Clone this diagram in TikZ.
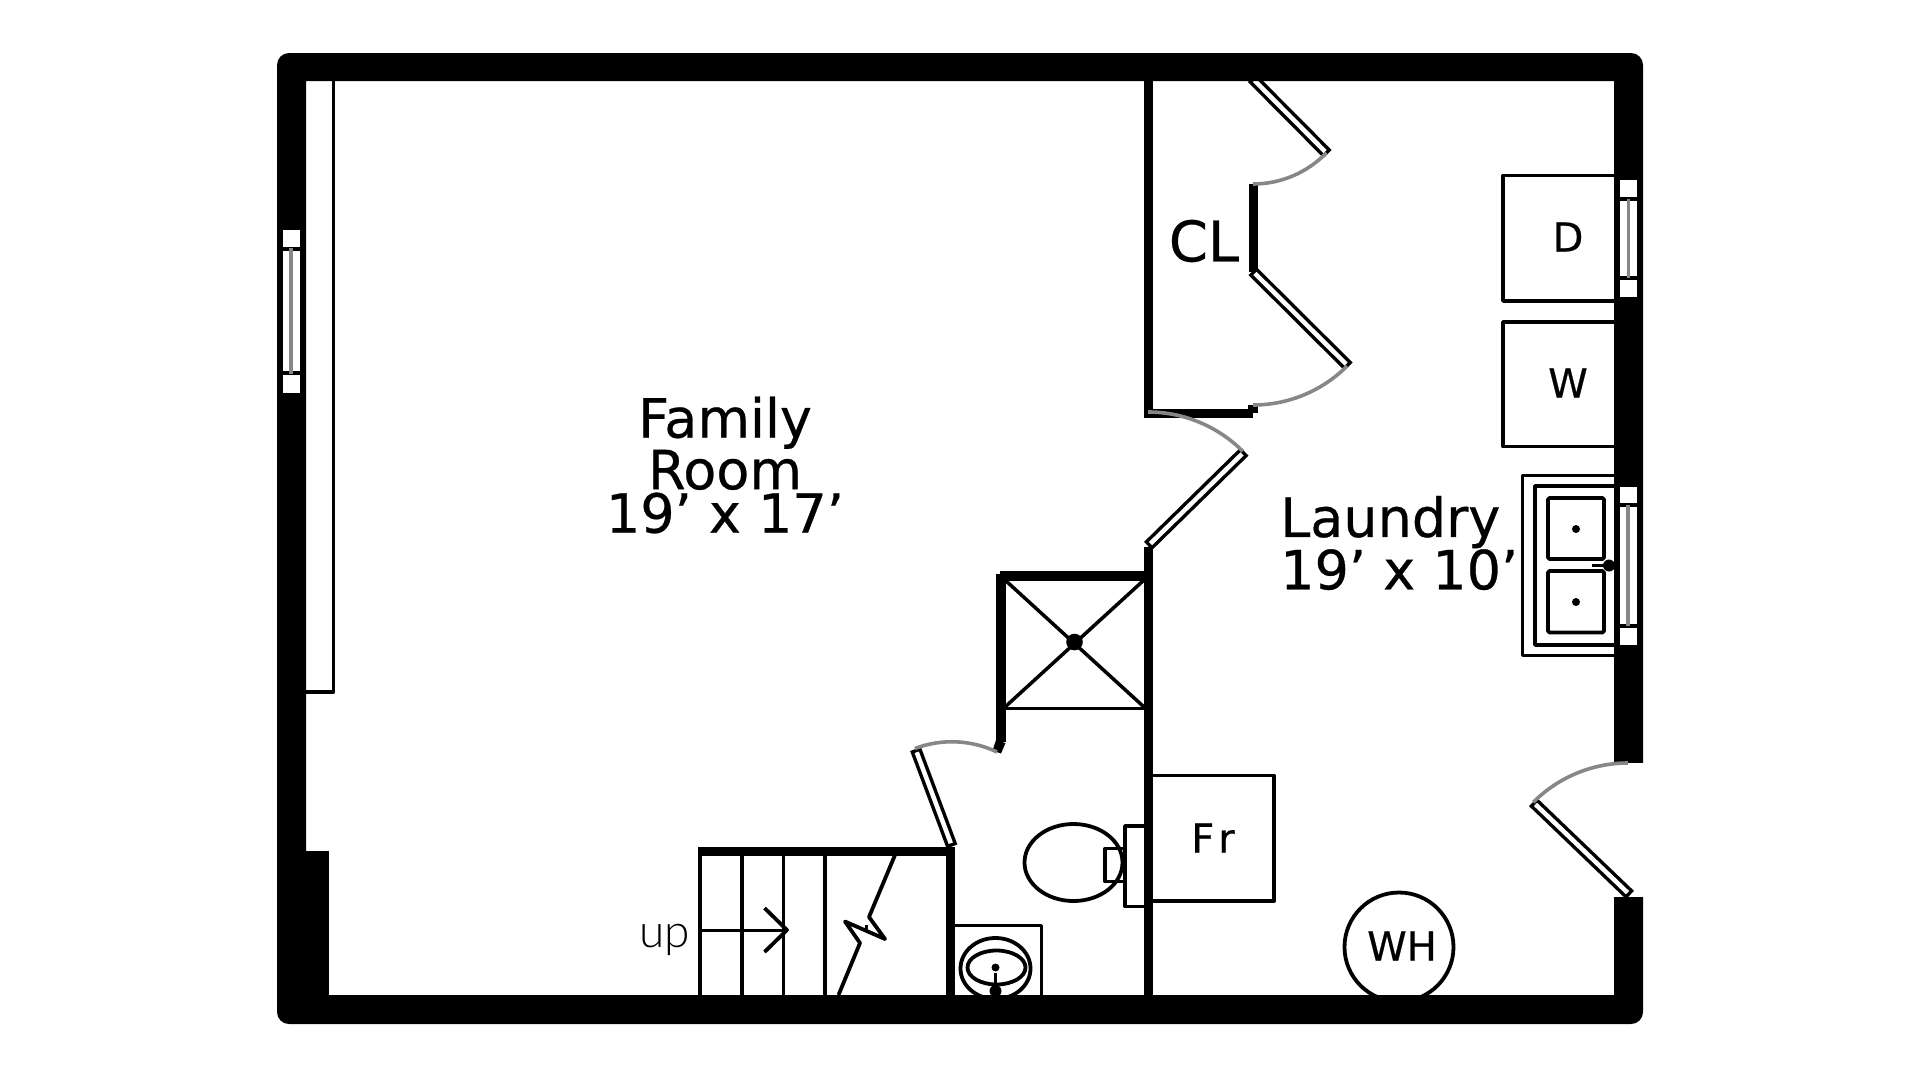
\documentclass[tikz,border=0pt]{standalone}
\usepackage{fontspec}
\setmainfont{DejaVu Sans}
\newfontfamily\planfont[FakeBold=0.5]{DejaVu Sans}
\newfontfamily\upfont[UprightFont=* Light]{Lato}
\tikzset{
  fixture/.style={line width=3.8, line join=round},
  swing/.style={line width=3.6, color=black!47},
  leaf/.style={line width=11.5, postaction={draw, white, line width=4.5, shorten >=3.5, shorten <=3.5}},
  pane/.style={fill=white},
  glass/.style={line width=3.4, color=black!47},
  roomlabel/.style={font=\fontsize{54}{43.5}\selectfont\planfont, inner sep=0pt},
  itemlabel/.style={font=\fontsize{40}{40}\selectfont\planfont, inner sep=0pt}
}
\begin{document}
\begin{tikzpicture}[x=1pt, y=-1pt]
    \useasboundingbox (0,0) rectangle (1920,1080);
    % furniture under the walls
    \draw[fixture] (333.5,81) -- (333.5,692) -- (306,692);
    \draw[fixture] (1614,175.5) -- (1503,175.5) -- (1503,301) -- (1614,301);
    \draw[fixture] (1614,322) -- (1503,322) -- (1503,446.5) -- (1614,446.5);
    \draw[fixture] (1153,775.5) -- (1274,775.5) -- (1274,901) -- (1153,901);
    \draw[fixture] (1399,947) circle (54.5);
    \draw[leaf] (1252,78) -- (1327.5,154);
    % sink
    \draw[fixture] (1614,475.5) -- (1522.5,475.5) -- (1522.5,655.5) -- (1614,655.5);
    \draw[fixture] (1614,486) -- (1535,486) -- (1535,645) -- (1614,645);
    \draw[fixture, rounded corners=1.5] (1548,498) rectangle (1604,559);
    \draw[fixture, rounded corners=1.5] (1548,571) rectangle (1604,632.5);
    \fill (1576,529) circle (4);
    \fill (1576,602) circle (4);
    \fill (1609,565.5) circle (6);
    \draw[line width=3] (1591.5,565.5) -- (1609,565.5);
    % toilet and basin
    \draw[fixture] (1073.5,862.5) ellipse (49 and 38.5);
    \draw[fixture] (1144,826) -- (1125,826) -- (1125,906.5) -- (1144,906.5);
    \draw[fixture] (1125,848.5) -- (1105,848.5) -- (1105,881.5) -- (1125,881.5);
    \draw[fixture] (955,925.5) -- (1041.5,925.5) -- (1041.5,995);
    \draw[fixture] (995.5,968.5) ellipse (35 and 30.5);
    \draw[fixture] (996.5,967.5) ellipse (29 and 17);
    \fill (995.5,967.5) circle (4);
    \draw[line width=3] (995.5,973) -- (995.5,995);
    \fill (995.5,991) circle (6);
    % stairs
    \draw[fixture] (700,851) -- (700,995);
    \draw[fixture] (742,851) -- (742,995);
    \draw[fixture] (783.5,851) -- (783.5,995);
    \draw[fixture] (825,851) -- (825,995);
    \draw[line width=3] (700,930) -- (787,930);
    \draw[fixture] (764.5,908) -- (787,930) -- (764.5,952);
    \draw[fixture] (895,855) -- (869,917) -- (885,939) -- (845,921.5) -- (860,943) -- (838.5,995);
    \draw[line width=2.5] (866.5,924.5) -- (866.5,929);
    % outer wall
    \fill[even odd rule] [rounded corners=12] (277,53) rectangle (1643,1024)
      [sharp corners] (306,81) rectangle (1614,995);
    \fill (300,851) rectangle (329,1000);
    \fill[white] (1608,763) rectangle (1650,897);
    % windows
    \fill[pane] (282.5,230) rectangle (300,246.5);
    \fill[pane] (282.5,250.5) rectangle (300,371);
    \fill[pane] (282.5,375) rectangle (300,392.5);
    \draw[glass] (291,248) -- (291,374);
    \fill[pane] (1620,180) rectangle (1637,196.5);
    \fill[pane] (1620,201) rectangle (1637,276);
    \fill[pane] (1620,280) rectangle (1637,296.5);
    \draw[glass] (1628.5,198.5) -- (1628.5,278);
    \fill[pane] (1619.5,486.5) rectangle (1637,503);
    \fill[pane] (1619.5,506.5) rectangle (1637,624);
    \fill[pane] (1619.5,628) rectangle (1637,644.5);
    \draw[glass] (1628,505) -- (1628,626);
    % inner walls
    \fill (1144,81) rectangle (1153,418);
    \fill (1144,409) rectangle (1253,418);
    \fill (1248,405) rectangle (1257.5,413);
    \fill (1249,184) rectangle (1257.5,272);
    \fill (1144,547) rectangle (1153,995);
    \fill (698,847) rectangle (955,855.5);
    \fill (946,847) rectangle (955,995);
    \fill (1000,571) rectangle (1144,580.5);
    \fill (996,574) rectangle (1005.5,742);
    \fill (996,740) -- (1005.5,743) -- (1001,753.5) -- (992.5,750.5) -- cycle;
    % shower
    \draw[fixture] (1004,708.5) -- (1144,708.5);
    \draw[line width=3.5] (1005,580) -- (1144,707) (1005,707) -- (1144,580);
    \fill (1074.5,642) circle (8.3);
    % doors
    \draw[leaf] (1252.5,271) -- (1348.5,366.5);
    \draw[leaf] (1148,546) -- (1244.5,451.5);
    \draw[leaf] (1630,895) -- (1533,802);
    \draw[leaf] (952,846.5) -- (915.5,749);
    \draw[swing] (1253,184) arc[start angle=90, end angle=44, radius=102];
    \draw[swing] (1253,405) arc[start angle=90, end angle=45, radius=133];
    \draw[swing] (1148,412) arc[start angle=-90, end angle=-45, radius=134];
    \draw[swing] (1628,763) arc[start angle=-90, end angle=-135, radius=134];
    \draw[swing] (997,752) arc[start angle=-64.4, end angle=-110.7, radius=104.5];
    % labels
    \node[roomlabel, align=center] (family) at (725,465) {Family\\Room\\19’ x 17’};
    \node[roomlabel, align=left, anchor=west] (laundry) at (1280,543) {Laundry\\19’ x 10’};
    \node[font=\fontsize{56}{56}\selectfont\planfont, inner sep=0pt] (closet) at (1204,241) {CL};
    \node[itemlabel] (dryer) at (1568,237) {D};
    \node[itemlabel] (washer) at (1568,383) {W};
    \node[itemlabel] (fridge) at (1213,838) {F\kern4pt r};
    \node[itemlabel] (heater) at (1402,946) {WH};
    \node[font=\fontsize{46}{46}\selectfont\upfont, inner sep=0pt] (up) at (664.5,940) {up};
  \end{tikzpicture}
\end{document}
